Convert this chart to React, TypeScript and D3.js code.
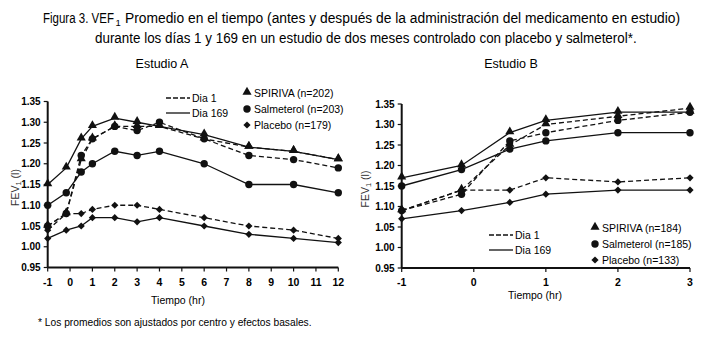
import React, { useLayoutEffect, useRef, useState } from 'react';
import * as d3 from 'd3';

// Estudio A: horas y FEV1 (l)
const hoursA = [-1, -0.17, 0.5, 1, 2, 3, 4, 6, 8, 10, 12];
const spirivaA_d1 = [1.05, 1.08, 1.21, 1.26, 1.29, 1.29, 1.29, 1.26, 1.24, 1.23, 1.21];
const spirivaA_d169 = [1.15, 1.19, 1.26, 1.29, 1.31, 1.30, 1.29, 1.27, 1.24, 1.23, 1.21];
const salmeterolA_d1 = [1.05, 1.08, 1.22, 1.26, 1.29, 1.28, 1.30, 1.26, 1.22, 1.21, 1.19];
const salmeterolA_d169 = [1.10, 1.13, 1.18, 1.20, 1.23, 1.22, 1.23, 1.20, 1.15, 1.15, 1.13];
const placeboA_d1 = [1.04, 1.08, 1.08, 1.09, 1.10, 1.10, 1.09, 1.07, 1.05, 1.04, 1.02];
const placeboA_d169 = [1.02, 1.04, 1.05, 1.07, 1.07, 1.06, 1.07, 1.05, 1.03, 1.02, 1.01];

// Estudio B
const hoursB = [-1, -0.17, 0.5, 1, 2, 3];
const spirivaB_d1 = [1.09, 1.14, 1.25, 1.30, 1.32, 1.34];
const spirivaB_d169 = [1.17, 1.20, 1.28, 1.31, 1.33, 1.33];
const salmeterolB_d1 = [1.09, 1.13, 1.26, 1.28, 1.31, 1.33];
const salmeterolB_d169 = [1.15, 1.19, 1.24, 1.26, 1.28, 1.28];
const placeboB_d1 = [1.09, 1.14, 1.14, 1.17, 1.16, 1.17];
const placeboB_d169 = [1.07, 1.09, 1.11, 1.13, 1.14, 1.14];

const yTicks = [0.95, 1.0, 1.05, 1.1, 1.15, 1.2, 1.25, 1.3, 1.35];
const xTicksA = [-1, 0, 1, 2, 3, 4, 5, 6, 7, 8, 9, 10, 11, 12];
const xTicksB = [-1, 0, 1, 2, 3];

const legendA = ['SPIRIVA (n=202)', 'Salmeterol (n=203)', 'Placebo (n=179)'];
const legendB = ['SPIRIVA (n=184)', 'Salmeterol (n=185)', 'Placebo (n=133)'];
const dayLabels = ['Dia 1', 'Dia 169'];

const titleLines = [
  'Figura 3. VEF',
  'Promedio en el tiempo (antes y después de la administración del medicamento en estudio)',
  'durante los días 1 y 169 en un estudio de dos meses controlado con placebo y salmeterol*.',
];
const footnote = '* Los promedios son ajustados por centro y efectos basales.';

const sans = '"Liberation Sans", Arial, sans-serif';

// narrow text: squeeze horizontally to the width of the original condensed font
const FitText = ({ x, y, width, fontSize, children }) => {
  const ref = useRef(null);
  const [k, setK] = useState(1);
  useLayoutEffect(() => {
    const w = ref.current.getComputedTextLength();
    if (w > 0) setK(width / w);
  }, [width]);
  return (
    <text ref={ref} transform={`translate(${x},${y}) scale(${k},1)`} fontFamily={sans} fontSize={fontSize}>{children}</text>
  );
};

const marker = (kind, x, y, key) => {
  if (kind === 'tri') {
    const p = d3.symbol(d3.symbolTriangle, 36)();
    return <path key={key} d={p} transform={`translate(${x},${y - 1})`} fill="#111" />;
  }
  if (kind === 'circ') {
    return <circle key={key} cx={x} cy={y} r={3.7} fill="#111" />;
  }
  const p = d3.symbol(d3.symbolSquare, 26)();
  return <path key={key} d={p} transform={`translate(${x},${y}) rotate(45)`} fill="#111" />;
};

const Panel = ({ cfg }) => {
  const x = d3.scaleLinear().domain(cfg.xDomain).range(cfg.xRange);
  const y = d3.scaleLinear().domain([0.95, 1.35]).range(cfg.yRange);
  const line = d3.line().x(d => x(d[0])).y(d => y(d[1]));
  const [x0, x1] = cfg.xRange;
  const [y0, y1] = cfg.yRange;

  return (
    <g>
      <text x={cfg.titleX} y={68} textAnchor="middle" fontFamily={sans} fontSize={12.5}>{cfg.title}</text>

      {cfg.series.map((s, i) => (
        <path key={'l' + i} d={line(cfg.hours.map((h, j) => [h, s.values[j]]))}
          fill="none" stroke="#111" strokeWidth={1.3}
          strokeDasharray={s.dashed ? '5,3' : null} />
      ))}
      {cfg.series.map((s, i) => cfg.hours.map((h, j) => marker(s.kind, x(h), y(s.values[j]), `m${i}-${j}`)))}

      {/* axes */}
      <line x1={x0} x2={x0} y1={y0} y2={y1} stroke="#111" strokeWidth={2} />
      <line x1={x0} x2={x1} y1={y0} y2={y0} stroke="#111" strokeWidth={2} />
      {yTicks.map(t => (
        <g key={'y' + t}>
          <line x1={x0 - 4} x2={x0} y1={y(t)} y2={y(t)} stroke="#111" strokeWidth={1.2} />
          <text x={x0 - 7} y={y(t) + 3.5} textAnchor="end" fontFamily={sans} fontWeight="bold" fontSize={10}>{t.toFixed(2)}</text>
        </g>
      ))}
      {cfg.xTicks.map(t => (
        <g key={'x' + t}>
          <line x1={x(t)} x2={x(t)} y1={y0} y2={y0 + 4} stroke="#111" strokeWidth={1.2} />
          <text x={x(t)} y={y0 + 18} textAnchor="middle" fontFamily={sans} fontWeight="bold" fontSize={10.5}>{t}</text>
        </g>
      ))}
      <text x={cfg.xLabelX} y={cfg.xLabelY} textAnchor="middle" fontFamily={sans} fontSize={10.5}>Tiempo (hr)</text>
      <text transform={`translate(${cfg.yLabelX},${(y0 + y1) / 2 + 3}) rotate(-90)`} textAnchor="middle" fontFamily={sans} fontSize={10.5} fill="#333">
        FEV<tspan fontSize={7.5} dy={2}>1</tspan><tspan dy={-2}> (l)</tspan>
      </text>

      {/* legend: days */}
      {dayLabels.map((lab, i) => (
        <g key={'d' + i}>
          <line x1={cfg.dayLeg[0]} x2={cfg.dayLeg[0] + 24} y1={cfg.dayLeg[1] + i * 15} y2={cfg.dayLeg[1] + i * 15}
            stroke="#111" strokeWidth={1.3} strokeDasharray={i === 0 ? '5,2' : null} />
          <text x={cfg.dayLeg[0] + 26} y={cfg.dayLeg[1] + i * 15 + 4} fontFamily={sans} fontSize={10.5}>{lab}</text>
        </g>
      ))}
      {/* legend: drugs */}
      {cfg.legend.map((lab, i) => (
        <g key={'g' + i}>
          {marker(['tri', 'circ', 'dia'][i], cfg.drugLeg[0], cfg.drugLeg[1] + i * 16, 'lg' + i)}
          <text x={cfg.drugLeg[0] + 7} y={cfg.drugLeg[1] + i * 16 + 4} fontFamily={sans} fontSize={10.5}>{lab}</text>
        </g>
      ))}
    </g>
  );
};

const panelA = {
  title: 'Estudio A', titleX: 162,
  hours: hoursA, xDomain: [-1, 12], xRange: [47.7, 338.3], yRange: [267.5, 101.5],
  xTicks: xTicksA, xLabelX: 178, xLabelY: 304, yLabelX: 19,
  dayLeg: [166, 98], drugLeg: [247, 93], legend: legendA,
  series: [
    { values: spirivaA_d1, kind: 'tri', dashed: true },
    { values: salmeterolA_d1, kind: 'circ', dashed: true },
    { values: placeboA_d1, kind: 'dia', dashed: true },
    { values: spirivaA_d169, kind: 'tri', dashed: false },
    { values: salmeterolA_d169, kind: 'circ', dashed: false },
    { values: placeboA_d169, kind: 'dia', dashed: false },
  ],
};

const panelB = {
  title: 'Estudio B', titleX: 511,
  hours: hoursB, xDomain: [-1, 3], xRange: [401.7, 690], yRange: [268, 104],
  xTicks: xTicksB, xLabelX: 535, xLabelY: 299, yLabelX: 369,
  dayLeg: [489, 235], drugLeg: [595, 228], legend: legendB,
  series: [
    { values: spirivaB_d1, kind: 'tri', dashed: true },
    { values: salmeterolB_d1, kind: 'circ', dashed: true },
    { values: placeboB_d1, kind: 'dia', dashed: true },
    { values: spirivaB_d169, kind: 'tri', dashed: false },
    { values: salmeterolB_d169, kind: 'circ', dashed: false },
    { values: placeboB_d169, kind: 'dia', dashed: false },
  ],
};

export default function App() {
  return (
    <svg width={703} height={359} style={{ position: 'absolute', left: 0, top: 0, background: '#fff' }}>
      <rect width={703} height={359} fill="#fff" />
      <FitText x={43} y={23} width={71} fontSize={15}>{titleLines[0]}</FitText>
      <text x={115.5} y={26} fontFamily={sans} fontSize={9.5}>1</text>
      <FitText x={125} y={23} width={556} fontSize={15}>{titleLines[1]}</FitText>
      <FitText x={95} y={43} width={542} fontSize={15}>{titleLines[2]}</FitText>
      <Panel cfg={panelA} />
      <Panel cfg={panelB} />
      <FitText x={38} y={326} width={274} fontSize={11.5}>{footnote}</FitText>
    </svg>
  );
}
